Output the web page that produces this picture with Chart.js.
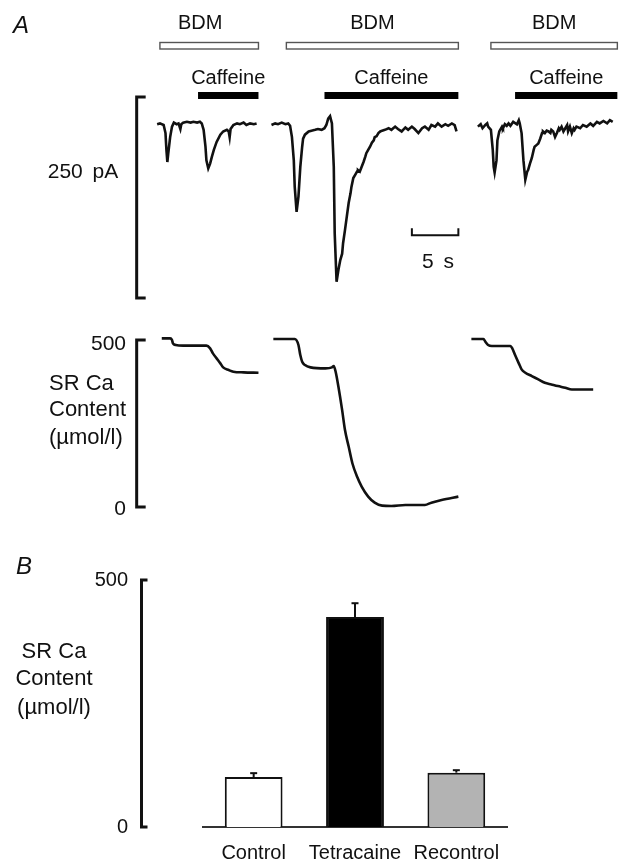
<!DOCTYPE html>
<html>
<head>
<meta charset="utf-8">
<script src="https://cdn.jsdelivr.net/npm/chart.js@4.4.1/dist/chart.umd.min.js"></script>
<style>
html, body { margin:0; padding:0; background:#fff; }
#wrap { position:relative; width:622px; height:863px; overflow:hidden; font-family:"Liberation Sans", Arial, sans-serif; color:#111; }
#cA { position:absolute; left:0; top:0; }
#cB { position:absolute; left:0; top:540px; }
.lbl { position:absolute; white-space:nowrap; line-height:1; }
</style>
</head>
<body>
<div id="wrap">
  <canvas id="cA" width="622" height="530"></canvas>
  <canvas id="cB" width="622" height="323"></canvas>
</div>
<script>
// ---- panel A: membrane current (pA) vs time (s) ----
var cur1T = [0,0.3,0.7,0.9,1.0,1.1,1.2,1.4,1.6,1.8,2.1,2.3,2.5,2.6,2.8,3.2,3.6,3.9,4.3,4.6,4.8,5.0,5.2,5.3,5.5,5.7,5.9,6.1,6.4,6.8,7.1,7.5,7.7,7.8,7.9,8.2,8.6,8.9,9.3,9.6,10.0,10.4,10.7];
var cur1I = [1,2,0,-10,-31,-46,-35,-15,-2,3,1,2,-5,1,3,4,3,4,3,4,2,-6,-27,-44,-54,-48,-39,-31,-21,-12,-8,-6,-8,-15,-5,0,2,1,3,0,2,1,2];

var cur2T = [12.3,12.7,13.0,13.4,13.8,14.1,14.3,14.5,14.7,14.8,15.0,15.2,15.4,15.6,15.7,15.9,16.3,16.6,17.0,17.3,
             17.7,18.0,18.2,18.4,18.6,18.8,19.0,19.1,19.3,19.5,19.7,19.9,20.0,20.2,20.4,20.6,20.8,20.9,21.1,21.3,
             21.5,21.6,21.8,22.0,22.2,22.4,22.5,22.7,22.9,23.1,23.3,23.4,23.6,23.8,24.0,24.2,24.5,24.9,25.2,25.6,
             25.9,26.3,26.7,27.0,27.4,27.7,28.1,28.5,28.8,29.2,29.5,29.9,30.2,30.6,31.0,31.3,31.7,32.0,32.2];
var cur2I = [0,2,1,3,1,2,-1,-15,-44,-77,-108,-89,-52,-27,-17,-12,-8,-7,-6,-5,
             -6,-4,0,8,11,2,-52,-135,-195,-180,-168,-160,-147,-131,-114,-97,-85,-77,-66,-62,
             -58,-56,-58,-52,-46,-39,-35,-31,-27,-22,-19,-15,-14,-10,-8,-7,-6,-4,-6,-2,
             -5,-8,-3,-6,-2,-5,-10,-4,-2,-6,0,-2,2,-2,1,-1,2,0,-8];

var cur3T = [34.5,34.8,35.0,35.3,35.5,35.6,35.9,36.1,36.2,36.3,36.5,36.6,36.8,37.1,37.2,37.4,37.6,37.8,38.0,38.3,
             38.7,38.9,39.0,39.2,39.4,39.6,39.8,39.9,40.1,40.3,40.5,40.6,40.8,41.0,41.2,41.4,41.5,41.7,41.9,42.1,
             42.3,42.4,42.6,42.8,43.0,43.2,43.3,43.5,43.7,43.9,44.1,44.2,44.4,44.6,44.8,44.9,45.1,45.5,45.8,46.2,
             46.6,46.9,47.3,47.6,48.0,48.4,48.7,49.0];
var cur3I = [-2,1,-4,0,2,-2,-6,-31,-52,-59,-44,-19,-8,-2,-4,1,-1,2,-1,4,
             1,6,2,-10,-44,-68,-58,-56,-48,-41,-31,-27,-25,-23,-17,-10,-8,-10,-7,-8,
             -10,-6,-8,-15,-10,-4,-6,-2,-8,-4,0,-8,-2,-10,-4,-6,-2,-4,0,-2,
             2,-1,4,2,5,2,6,4];

// ---- panel A: SR Ca content (umol/l) vs time (s) ----
var ca1T = [0.5,1.4,1.6,1.7,2.0,2.8,5.3,5.7,6.0,6.4,6.8,7.1,7.7,8.2,9.3,10.9];
var ca1V = [505,505,500,490,485,483,483,475,460,445,430,418,410,405,403,402];
var ca2T = [12.5,14.8,15.2,15.4,15.6,15.9,16.5,18.1,18.8,19.0,19.2,19.5,19.9,20.2,20.6,21.0,21.5,22.0,22.7,23.4,24.2,25.2,26.7,28.1,28.8,29.5,30.6,32.4];
var ca2V = [503,503,485,455,435,425,418,415,418,422,405,360,290,231,181,131,91,61,31,13,4,3,6,6,6,13,21,31];
var ca3T = [33.8,35.1,35.3,35.6,36.0,38.0,38.2,38.5,38.9,39.2,39.6,40.3,41.0,41.7,42.4,43.1,43.9,44.6,45.3,46.9];
var ca3V = [503,503,495,485,482,482,475,455,430,412,402,392,382,372,367,362,357,352,352,352];

// application periods (s)
var bdmOn  = [0.3, 13.9, 35.9];
var bdmOff = [10.9, 32.4, 49.5];
var caffOn  = [4.4, 18.0, 38.5];
var caffOff = [10.9, 32.4, 49.5];

// ---- panel B: mean SR Ca content ----
var groups = ['Control', 'Tetracaine', 'Recontrol'];
var meanCa = [101, 425, 110];
var semCa  = [8, 28, 5];
var barFills = ['#ffffff', '#000000', '#b3b3b3'];

var FONT = '"Liberation Sans", Arial, sans-serif';
Chart.defaults.font.family = FONT;
Chart.defaults.color = '#111';

function zip(t, v) {
    var out = [];
    for (var i = 0; i < t.length; i++) out.push({x: t[i], y: v[i]});
    return out;
}

function trace(t, v, axis, smooth) {
    return {
        data: zip(t, v),
        yAxisID: axis,
        borderColor: '#111',
        borderWidth: 2.6,
        pointRadius: 0,
        fill: false,
        tension: 0,
        cubicInterpolationMode: smooth ? 'monotone' : 'default'
    };
}

function line(ctx, x1, y1, x2, y2) {
    ctx.beginPath();
    ctx.moveTo(x1, y1);
    ctx.lineTo(x2, y2);
    ctx.stroke();
}

// solution bars, calibration brackets and time bar for panel A
var panelAExtras = {
    id: 'panelAExtras',
    afterDatasetsDraw: function(chart) {
        var ctx = chart.ctx, x = chart.scales.x, yI = chart.scales.yI, yCa = chart.scales.yCa;
        ctx.save();
        var i, x1, x2;
        for (i = 0; i < bdmOn.length; i++) {
            x1 = x.getPixelForValue(bdmOn[i]); x2 = x.getPixelForValue(bdmOff[i]);
            ctx.fillStyle = '#fff'; ctx.strokeStyle = '#555'; ctx.lineWidth = 1.4;
            ctx.fillRect(x1, 42.5, x2 - x1, 6.5);
            ctx.strokeRect(x1, 42.5, x2 - x1, 6.5);
        }
        for (i = 0; i < caffOn.length; i++) {
            x1 = x.getPixelForValue(caffOn[i]); x2 = x.getPixelForValue(caffOff[i]);
            ctx.fillStyle = '#000';
            ctx.fillRect(x1, 92, x2 - x1, 7);
        }
        ctx.strokeStyle = '#111';
        ctx.lineWidth = 3;
        ctx.lineCap = 'butt';
        // 250 pA bracket
        var bx = x.getPixelForValue(-2.2);
        var t1 = yI.getPixelForValue(35), t2 = yI.getPixelForValue(-215);
        ctx.beginPath();
        ctx.moveTo(bx + 9, t1); ctx.lineTo(bx, t1); ctx.lineTo(bx, t2); ctx.lineTo(bx + 9, t2);
        ctx.stroke();
        // SR Ca bracket 0-500
        var c1 = yCa.getPixelForValue(500), c2 = yCa.getPixelForValue(0);
        ctx.beginPath();
        ctx.moveTo(bx + 9, c1); ctx.lineTo(bx, c1); ctx.lineTo(bx, c2); ctx.lineTo(bx + 9, c2);
        ctx.stroke();
        // 5 s time bar
        ctx.lineWidth = 2;
        var s1 = x.getPixelForValue(27.4), s2 = x.getPixelForValue(32.4), sy = yI.getPixelForValue(-137);
        ctx.beginPath();
        ctx.moveTo(s1, sy - 7); ctx.lineTo(s1, sy); ctx.lineTo(s2, sy); ctx.lineTo(s2, sy - 7);
        ctx.stroke();
        ctx.restore();
    }
};

var chartA = new Chart(document.getElementById('cA'), {
    type: 'line',
    data: {
        datasets: [
            trace(cur1T, cur1I, 'yI', false),
            trace(cur2T, cur2I, 'yI', false),
            trace(cur3T, cur3I, 'yI', false),
            trace(ca1T, ca1V, 'yCa', true),
            trace(ca2T, ca2V, 'yCa', true),
            trace(ca3T, ca3V, 'yCa', true)
        ]
    },
    options: {
        responsive: false,
        animation: false,
        layout: { padding: 0 },
        plugins: { legend: { display: false }, tooltip: { enabled: false } },
        scales: {
            x:   { type: 'linear', display: false, min: -16.9, max: 50 },
            yI:  { type: 'linear', display: false, min: -503.7, max: 155.5 },
            yCa: { type: 'linear', display: false, min: -68.9, max: 1518 }
        }
    },
    plugins: [panelAExtras]
});

// error bars and axis bracket for panel B
var panelBExtras = {
    id: 'panelBExtras',
    afterDatasetsDraw: function(chart) {
        var ctx = chart.ctx, y = chart.scales.y;
        var meta = chart.getDatasetMeta(0);
        ctx.save();
        ctx.strokeStyle = '#111';
        ctx.lineWidth = 2;
        meta.data.forEach(function(bar, i) {
            var top = y.getPixelForValue(meanCa[i] + semCa[i]);
            line(ctx, bar.x, bar.y, bar.x, top);
            line(ctx, bar.x - 3.5, top, bar.x + 3.5, top);
        });
        ctx.lineWidth = 3;
        var ax = 141.5, a1 = y.getPixelForValue(500), a2 = y.getPixelForValue(0);
        ctx.beginPath();
        ctx.moveTo(ax + 6, a1); ctx.lineTo(ax, a1); ctx.lineTo(ax, a2); ctx.lineTo(ax + 6, a2);
        ctx.stroke();
        ctx.restore();
    }
};

var chartB = new Chart(document.getElementById('cB'), {
    type: 'bar',
    data: {
        labels: groups,
        datasets: [{
            data: meanCa,
            backgroundColor: barFills,
            borderColor: '#111',
            borderWidth: 2,
            borderSkipped: 'bottom',
            barPercentage: 0.57,
            categoryPercentage: 1
        }]
    },
    options: {
        responsive: false,
        animation: false,
        layout: { padding: { top: 40, right: 115, left: 0, bottom: 0 } },
        plugins: { legend: { display: false }, tooltip: { enabled: false } },
        scales: {
            x: {
                grid: { display: false, drawTicks: false },
                border: { display: true, color: '#333', width: 2 },
                ticks: { color: '#111', font: { size: 20 }, padding: 14 },
                afterFit: function(s) { s.height = 36; }
            },
            y: {
                min: 0, max: 500,
                grid: { display: false, drawTicks: false },
                border: { display: false },
                ticks: { stepSize: 500, padding: 75, color: '#111', font: { size: 20 } },
                afterFit: function(s) {
                    // keep the wide label gap from eating vertical space
                    s.width = 203;
                    s.paddingTop = 12;
                    s.paddingBottom = 12;
                }
            }
        }
    },
    plugins: [panelBExtras]
});

// ---- text labels ----
var wrap = document.getElementById('wrap');
function addLabel(text, x, y, align, size, italic) {
    var d = document.createElement('div');
    d.className = 'lbl';
    d.textContent = text;
    d.style.fontSize = size + 'px';
    if (italic) d.style.fontStyle = 'italic';
    var tx = align === 'left' ? '0' : (align === 'right' ? '-100%' : '-50%');
    d.style.left = x + 'px';
    d.style.top = y + 'px';
    d.style.transform = 'translate(' + tx + ', -50%)';
    wrap.appendChild(d);
    return d;
}

var xs = chartA.scales.x;
addLabel('A', 13, 25, 'left', 24, true);
for (var i = 0; i < bdmOn.length; i++) {
    addLabel('BDM', xs.getPixelForValue((bdmOn[i] + bdmOff[i]) / 2) - (i === 0 ? 9 : 0), 22, 'center', 20);
    addLabel('Caffeine', xs.getPixelForValue((caffOn[i] + caffOff[i]) / 2), 77, 'center', 20);
}
addLabel('250 pA', 83, 170, 'center', 21).style.wordSpacing = '4px';
addLabel('5 s', 438, 260, 'center', 21).style.wordSpacing = '4px';
var yCaA = chartA.scales.yCa;
addLabel('500', 126, yCaA.getPixelForValue(500) + 2, 'right', 21);
addLabel('0', 126, yCaA.getPixelForValue(0), 'right', 21);
addLabel('SR Ca', 49, 383, 'left', 22);
addLabel('Content', 49, 409, 'left', 22);
addLabel('(\u00b5mol/l)', 49, 437, 'left', 22);

addLabel('B', 16, 566, 'left', 24, true);
addLabel('SR Ca', 54, 651, 'center', 22);
addLabel('Content', 54, 678, 'center', 22);
addLabel('(\u00b5mol/l)', 54, 707, 'center', 22);
</script>
</body>
</html>
